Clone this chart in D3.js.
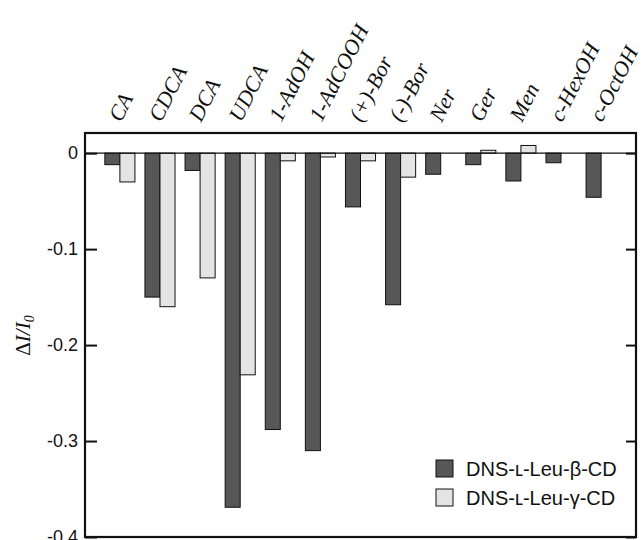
<!DOCTYPE html>
<html>
<head>
<meta charset="utf-8">
<script src="https://cdn.jsdelivr.net/npm/d3@7"></script>
<style>
  body { margin: 0; background: #fff; }
</style>
</head>
<body>
<div id="chart-area"></div>
<script>
// data
const guests = ["CA", "CDCA", "DCA", "UDCA", "1-AdOH", "1-AdCOOH", "(+)-Bor", "(-)-Bor",
  "Ner", "Ger", "Men", "c-HexOH", "c-OctOH"]
const betaCD = [-0.012, -0.150, -0.018, -0.369, -0.288, -0.310, -0.056, -0.158,
  -0.022, -0.012, -0.029, -0.010, -0.046]
const gammaCD = [-0.030, -0.160, -0.130, -0.231, -0.008, -0.004, -0.008, -0.025,
  0, 0.003, 0.008, 0, 0]
const seriesNames = ["DNS-\u029F-Leu-\u03B2-CD", "DNS-\u029F-Leu-\u03B3-CD"]
const yTicks = [0, -0.1, -0.2, -0.3, -0.4]

const COLORS = ["#575757", "#e4e4e4"]

const W = 643, H = 540
const MARGIN = { LEFT: 85, RIGHT: 7, TOP: 133, BOTTOM: 3 }
const WIDTH = W - MARGIN.LEFT - MARGIN.RIGHT
const HEIGHT = H - MARGIN.TOP - MARGIN.BOTTOM

const svg = d3.select("#chart-area").append("svg")
  .attr("width", W)
  .attr("height", H)

const g = svg.append("g")
  .attr("transform", `translate(${MARGIN.LEFT}, ${MARGIN.TOP})`)

const x = d3.scaleBand()
  .domain(guests)
  .range([0, WIDTH])
  .paddingInner(0.25)
  .paddingOuter(0.495)

const x1 = d3.scaleBand()
  .domain([0, 1])
  .range([0, x.bandwidth()])

const y = d3.scaleLinear()
  .domain([-0.4, 0.021])
  .range([HEIGHT, 0])

// bars
const rows = guests.map((name, i) => ({ name, vals: [betaCD[i], gammaCD[i]] }))

const groups = g.selectAll(".group")
  .data(rows)
  .enter().append("g")
  .attr("class", "group")
  .attr("transform", d => `translate(${x(d.name)}, 0)`)

groups.selectAll("rect")
  .data(d => d.vals.map((v, k) => ({ v, k })).filter(e => e.v !== 0))
  .enter().append("rect")
  .attr("x", d => x1(d.k))
  .attr("width", x1.bandwidth())
  .attr("y", d => y(Math.max(0, d.v)))
  .attr("height", d => Math.abs(y(d.v) - y(0)))
  .attr("fill", d => COLORS[d.k])
  .attr("stroke", "#111")
  .attr("stroke-width", 1)

// zero line
g.append("line")
  .attr("x1", 0).attr("x2", WIDTH)
  .attr("y1", y(0)).attr("y2", y(0))
  .attr("stroke", "#111")
  .attr("stroke-width", 1.2)

// axes
const fmt = d => d === 0 ? "0" : d.toFixed(1)

const yAxisCall = d3.axisLeft(y)
  .tickValues(yTicks)
  .tickFormat(fmt)
  .tickSizeInner(-12)
  .tickSizeOuter(0)
  .tickPadding(7)

const yAxis = g.append("g").call(yAxisCall)
yAxis.select(".domain").remove()
yAxis.selectAll("line").attr("stroke", "#111").attr("stroke-width", 2)
yAxis.selectAll("text")
  .attr("font-family", "Liberation Sans, Arial, sans-serif")
  .attr("font-size", "18px")
  .attr("fill", "#111")

const yAxisRight = g.append("g")
  .attr("transform", `translate(${WIDTH}, 0)`)
  .call(d3.axisRight(y).tickValues(yTicks).tickFormat("").tickSizeInner(-10).tickSizeOuter(0))
yAxisRight.select(".domain").remove()
yAxisRight.selectAll("line").attr("stroke", "#111").attr("stroke-width", 2)

// frame
g.append("rect")
  .attr("width", WIDTH)
  .attr("height", HEIGHT)
  .attr("fill", "none")
  .attr("stroke", "#111")
  .attr("stroke-width", 2.2)

// category labels on top
g.selectAll(".cat-label")
  .data(guests)
  .enter().append("text")
  .attr("class", "cat-label")
  .attr("transform", d => `translate(${x(d) + x.bandwidth() / 2 + 1}, -10) rotate(-63)`)
  .attr("font-family", "Liberation Serif, Times New Roman, serif")
  .attr("font-style", "italic")
  .attr("font-size", "22px")
  .attr("fill", "#111")
  .text(d => d)

// Y label
const yLabel = svg.append("text")
  .attr("transform", `translate(30, ${MARGIN.TOP + y(-0.19)}) rotate(-90)`)
  .attr("text-anchor", "middle")
  .attr("font-family", "Liberation Serif, Times New Roman, serif")
  .attr("font-style", "italic")
  .attr("font-size", "21px")
  .attr("fill", "#111")
yLabel.append("tspan").attr("font-style", "normal").text("\u0394")
yLabel.append("tspan").text("I/I")
yLabel.append("tspan").attr("font-size", "14px").attr("dy", 4).text("0")

// legend
const legend = g.selectAll(".legend")
  .data(seriesNames)
  .enter().append("g")
  .attr("class", "legend")
  .attr("transform", (d, i) => `translate(${436 - MARGIN.LEFT}, ${460 - MARGIN.TOP + i * 29})`)

legend.append("rect")
  .attr("width", 17)
  .attr("height", 17)
  .attr("fill", (d, i) => COLORS[i])
  .attr("stroke", "#111")
  .attr("stroke-width", 1)

legend.append("text")
  .attr("x", 30)
  .attr("y", 16)
  .attr("font-family", "Liberation Sans, Arial, sans-serif")
  .attr("font-size", "20px")
  .attr("fill", "#111")
  .text(d => d)
</script>
</body>
</html>
